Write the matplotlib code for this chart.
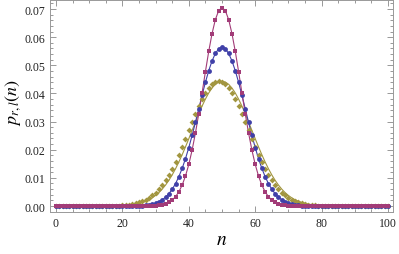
import matplotlib
matplotlib.use("Agg")
import matplotlib.pyplot as plt
from matplotlib.ticker import MultipleLocator, FormatStrFormatter

plt.rcParams['mathtext.fontset'] = 'stix'

n = list(range(101))

# half-profiles listed from the centre outwards (k = 0, 1, 2, ...)
purple_half = [0.07052, 0.06943, 0.06625, 0.06127, 0.05492, 0.04772, 0.04018, 0.03279,
               0.02594, 0.01989, 0.01478, 0.01065, 0.00743, 0.00503, 0.00330, 0.00210,
               0.00129, 0.00077, 0.00045, 0.00025, 0.00014, 0.00007, 0.00004]
blue_half = [0.05642, 0.05586, 0.05421, 0.05156, 0.04808, 0.04394, 0.03936, 0.03456,
             0.02975, 0.02510, 0.02076, 0.01682, 0.01337, 0.01041, 0.00795, 0.00595,
             0.00436, 0.00314, 0.00221, 0.00153, 0.00103, 0.00069, 0.00045, 0.00028,
             0.00018, 0.00011, 0.00007, 0.00004, 0.00002]
olive_half = [0.04433, 0.04406, 0.04325, 0.04193, 0.04016, 0.03799, 0.03550, 0.03276,
              0.02986, 0.02689, 0.02391, 0.02100, 0.01822, 0.01562, 0.01322, 0.01105,
              0.00913, 0.00745, 0.00600, 0.00477, 0.00375, 0.00291, 0.00223, 0.00169,
              0.00127, 0.00094, 0.00068, 0.00049, 0.00035, 0.00025, 0.00017, 0.00012,
              0.00008, 0.00005, 0.00004, 0.00002]
line_centre = 50
olive_point_centre = 49


def full(half, centre):
    out = [0.0] * 101
    for k, v in enumerate(half):
        if 0 <= centre + k <= 100:
            out[centre + k] = v
        if 0 <= centre - k <= 100:
            out[centre - k] = v
    return out

purple_line = full(purple_half, line_centre)
blue_line = full(blue_half, line_centre)
olive_line = full(olive_half, line_centre)
purple_pts = purple_line
blue_pts = blue_line
olive_pts = full(olive_half, olive_point_centre)

c_blue = '#4040a8'
c_purple = '#a23c78'
c_olive = '#a29640'

fig = plt.figure(figsize=(3.99, 2.55), dpi=100)
ax = fig.add_axes([0.1253, 0.1647, 0.985 - 0.1253, 0.996 - 0.1647])

ax.plot(n, olive_line, color=c_olive, lw=0.8, zorder=2)
ax.plot(n, blue_line, color=c_blue, lw=0.8, zorder=2)
ax.plot(n, purple_line, color=c_purple, lw=0.8, zorder=2)
ax.plot(n, olive_pts, 'D', color=c_olive, ms=3.0, mew=0, zorder=3)
ax.plot(n, blue_pts, 'o', color=c_blue, ms=3.5, mew=0, zorder=3)
ax.plot(n, purple_pts, 's', color=c_purple, ms=3.1, mew=0, zorder=3)

ax.set_xlim(-1.8, 101.5)
ax.set_ylim(-0.00213, 0.0732)
ax.xaxis.set_major_locator(MultipleLocator(20))
ax.xaxis.set_minor_locator(MultipleLocator(5))
ax.yaxis.set_major_locator(MultipleLocator(0.01))
ax.yaxis.set_minor_locator(MultipleLocator(0.002))
ax.yaxis.set_major_formatter(FormatStrFormatter('%.2f'))

ax.tick_params(which='both', direction='in', top=True, right=True, colors='#888888',
               labelcolor='#222222', width=0.6)
ax.tick_params(which='major', length=4)
ax.tick_params(which='minor', length=2)
for lab in ax.get_xticklabels() + ax.get_yticklabels():
    lab.set_family('Liberation Serif')
    lab.set_fontsize(8.5)
for s in ax.spines.values():
    s.set_color('#999999')
    s.set_linewidth(0.7)

ax.set_xlabel('$n$', fontsize=14)
ax.set_ylabel('$p_{r,l}(n)$', fontsize=13)
ax.xaxis.set_label_coords(0.5, -0.08)
ax.yaxis.set_label_coords(-0.078, 0.52)

fig.savefig('out.png', dpi=100)
